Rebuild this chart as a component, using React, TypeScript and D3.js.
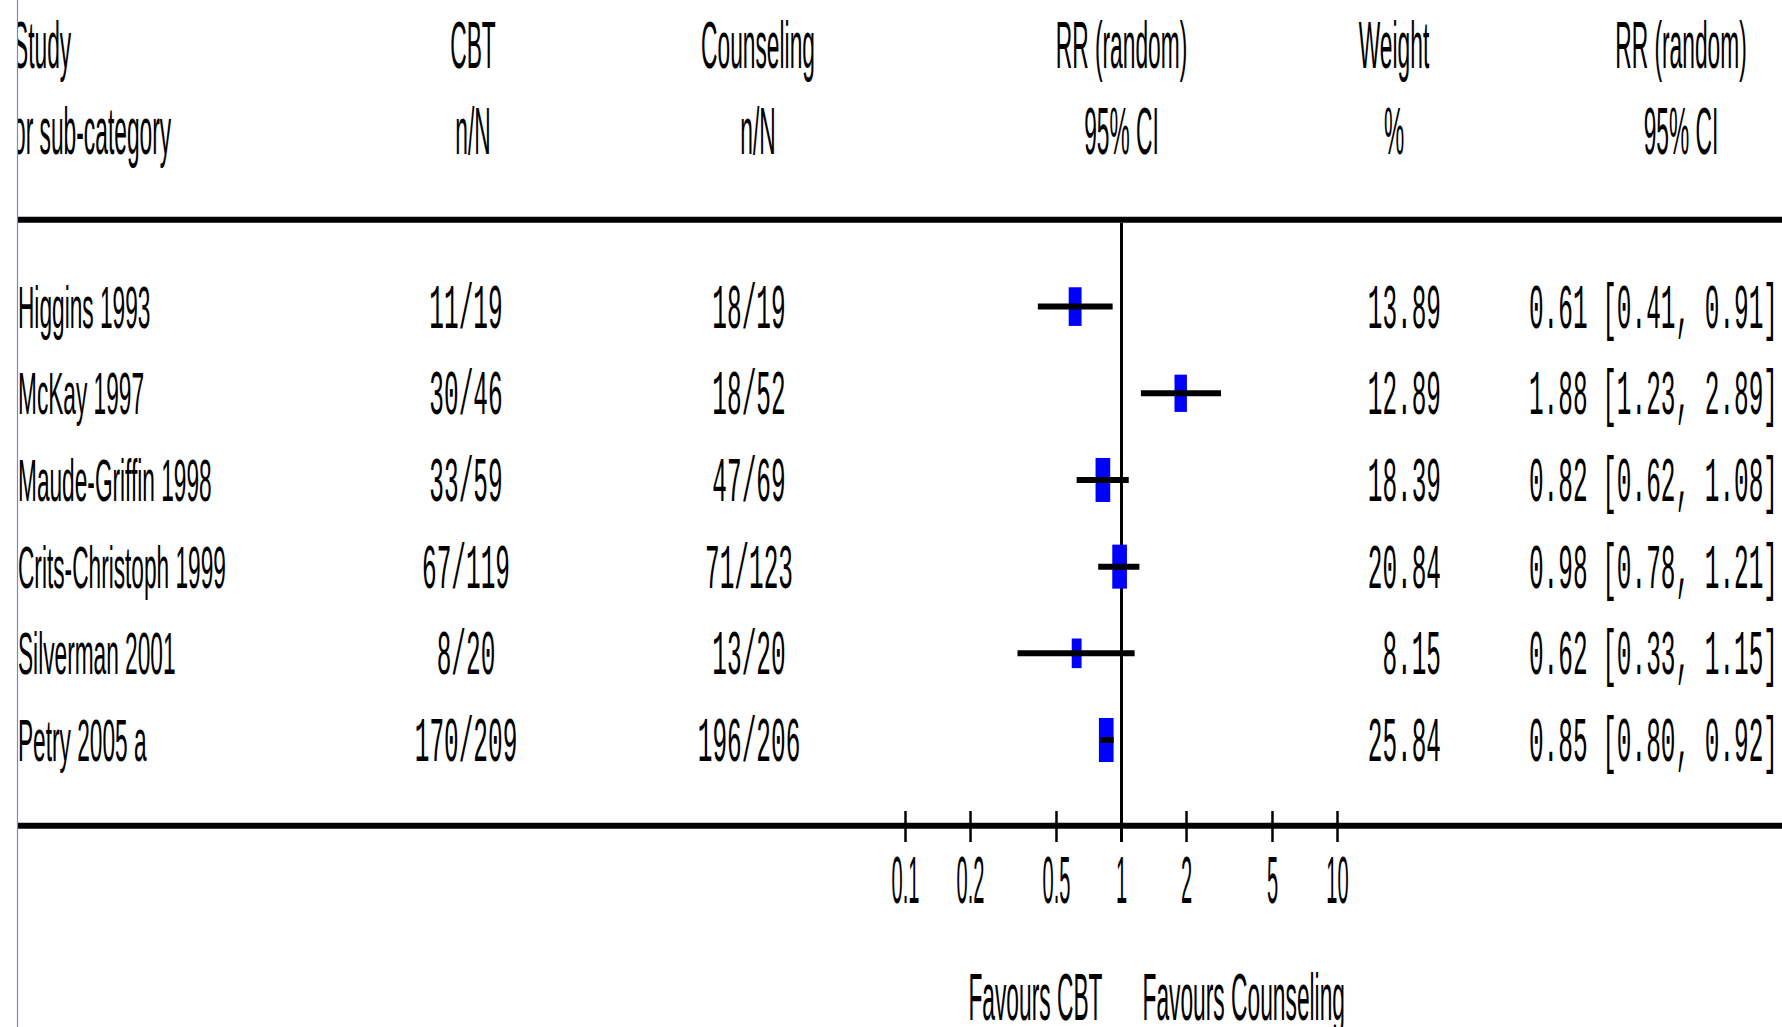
import React from "react";
import * as d3 from "d3";

// Forest plot: CBT vs Counseling, risk ratios (random effects)
const studies = [
  "Higgins 1993",
  "McKay 1997",
  "Maude-Griffin 1998",
  "Crits-Christoph 1999",
  "Silverman 2001",
  "Petry 2005 a",
];
const cbtEvents = [11, 30, 33, 67, 8, 170];
const cbtTotals = [19, 46, 59, 119, 20, 209];
const counselingEvents = [18, 18, 47, 71, 13, 196];
const counselingTotals = [19, 52, 69, 123, 20, 206];
const weights = [13.89, 12.89, 18.39, 20.84, 8.15, 25.84];
const riskRatios = [0.61, 1.88, 0.82, 0.98, 0.62, 0.85];
const ciLower = [0.41, 1.23, 0.62, 0.78, 0.33, 0.8];
const ciUpper = [0.91, 2.89, 1.08, 1.21, 1.15, 0.92];
const axisTicks = [0.1, 0.2, 0.5, 1, 2, 5, 10];
const headerTop = ["Study", "CBT", "Counseling", "RR (random)", "Weight", "RR (random)"];
const headerBottom = ["or sub-category", "n/N", "n/N", "95% CI", "%", "95% CI"];
const favourLabels = ["Favours CBT", "Favours Counseling"];

const W = 1782;
const H = 1027;
const LEFT = 17.5;
const TOP_RULE = 219.7;
const AXIS_Y = 825.7;

const SANS = "'Liberation Sans', Arial, sans-serif";
const MONO = "'Liberation Mono', 'Courier New', monospace";

type TextProps = {
  x: number;
  y: number;
  sx: number;
  size: number;
  family: string;
  anchor: "start" | "middle" | "end";
  children: React.ReactNode;
};

// Horizontally condensed text, anchored at (x, y)
function NarrowText({ x, y, sx, size, family, anchor, children }: TextProps) {
  return (
    <text
      transform={`translate(${x},${y}) scale(${sx},1)`}
      fontSize={size}
      fontFamily={family}
      textAnchor={anchor}
      fill="#000"
    >
      {children}
    </text>
  );
}

export default function App() {
  const x = d3.scaleLog().domain([0.1, 10]).range([905.5, 1337.5]);
  const y = d3.scalePoint<string>().domain(studies).range([306.6, 740]);
  const boxH = d3.scaleSqrt().domain([0, 18]).range([0, 44]).clamp(true);
  const x1 = x(1);

  const headerX = [13, 473, 758, x1, 1394, 1681];
  const headerAnchor: ("start" | "middle")[] = ["start", "middle", "middle", "middle", "middle", "middle"];

  const hSize = 67;
  const hSx = 0.34;
  const rSize = 58.6;
  const rSx = 0.387;
  const mSize = 63.6;
  const mSx = 0.384;

  const fmt = (v: number) => v.toFixed(2);

  return (
    <svg
      width={W}
      height={H}
      style={{ position: "fixed", left: 0, top: 0, background: "#fff" }}
    >
      <defs>
        <clipPath id="plot-area">
          <rect x={LEFT} y={0} width={W - LEFT} height={H} />
        </clipPath>
      </defs>
      <rect x={0} y={0} width={W} height={H} fill="#fff" />

      <g clipPath="url(#plot-area)">
        {/* column headers */}
        {headerTop.map((t, i) => (
          <NarrowText key={"ht" + i} x={headerX[i]} y={68} sx={hSx} size={hSize} family={SANS} anchor={headerAnchor[i]}>
            {t}
          </NarrowText>
        ))}
        {headerBottom.map((t, i) => (
          <NarrowText key={"hb" + i} x={headerX[i]} y={154} sx={hSx} size={hSize} family={SANS} anchor={headerAnchor[i]}>
            {t}
          </NarrowText>
        ))}

        {/* rules */}
        <line x1={LEFT} x2={W} y1={TOP_RULE} y2={TOP_RULE} stroke="#000" strokeWidth={6} />
        <line x1={LEFT} x2={W} y1={AXIS_Y} y2={AXIS_Y} stroke="#000" strokeWidth={6} />

        {/* line of no effect */}
        <line x1={x1} x2={x1} y1={TOP_RULE + 3} y2={842} stroke="#000" strokeWidth={3} />

        {/* axis ticks and labels */}
        {axisTicks.map((t) => (
          <g key={"t" + t}>
            <line x1={x(t)} x2={x(t)} y1={811} y2={842} stroke="#000" strokeWidth={2.5} />
            <NarrowText x={x(t)} y={903} sx={0.3} size={hSize} family={SANS} anchor="middle">
              {String(t)}
            </NarrowText>
          </g>
        ))}
        <NarrowText x={x1 - 19} y={1020} sx={hSx} size={hSize} family={SANS} anchor="end">
          {favourLabels[0]}
        </NarrowText>
        <NarrowText x={x1 + 21} y={1020} sx={hSx} size={hSize} family={SANS} anchor="start">
          {favourLabels[1]}
        </NarrowText>

        {/* study rows */}
        {studies.map((s, i) => {
          const cy = y(s) as number;
          const h = boxH(weights[i]);
          const w = h / 3;
          return (
            <g key={s}>
              <NarrowText x={18} y={cy + 21} sx={rSx} size={rSize} family={SANS} anchor="start">
                {s}
              </NarrowText>
              <NarrowText x={466} y={cy + 21} sx={mSx} size={mSize} family={MONO} anchor="middle">
                {`${cbtEvents[i]}/${cbtTotals[i]}`}
              </NarrowText>
              <NarrowText x={749} y={cy + 21} sx={mSx} size={mSize} family={MONO} anchor="middle">
                {`${counselingEvents[i]}/${counselingTotals[i]}`}
              </NarrowText>
              <NarrowText x={1441} y={cy + 21} sx={mSx} size={mSize} family={MONO} anchor="end">
                {fmt(weights[i])}
              </NarrowText>
              <NarrowText x={1778} y={cy + 21} sx={mSx} size={mSize} family={MONO} anchor="end">
                {`${fmt(riskRatios[i])} [${fmt(ciLower[i])}, ${fmt(ciUpper[i])}]`}
              </NarrowText>
              <rect
                x={x(riskRatios[i]) - w / 2}
                y={cy - h / 2}
                width={w}
                height={h}
                fill="#0000ff"
              />
              <line
                x1={x(ciLower[i])}
                x2={x(ciUpper[i])}
                y1={cy}
                y2={cy}
                stroke="#000"
                strokeWidth={6}
              />
            </g>
          );
        })}
      </g>

      {/* left frame line */}
      <line x1={LEFT} x2={LEFT} y1={0} y2={H} stroke="#6f93b8" strokeWidth={1.2} />
    </svg>
  );
}
